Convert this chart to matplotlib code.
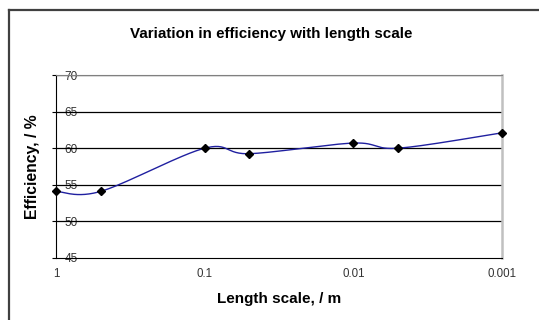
import numpy as np
import matplotlib
matplotlib.use("Agg")
import matplotlib.pyplot as plt
from matplotlib.lines import Line2D

plt.rcParams['font.family'] = ['Liberation Sans', 'DejaVu Sans']

length_scale = [1, 0.5, 0.1, 0.05, 0.01, 0.005, 0.001]
efficiency = [54.1, 54.1, 60.0, 59.25, 60.7, 60.0, 62.1]

xticks = [1, 0.1, 0.01, 0.001]
xtick_labels = ['1', '0.1', '0.01', '0.001']
yticks = [45, 50, 55, 60, 65, 70]


def smooth(xs, ys, n=30):
    # excel-like smoothed line: catmull-rom as bezier, in log-x space
    u = -np.log10(np.array(xs, dtype=float))
    v = np.array(ys, dtype=float)
    P = np.column_stack([u, v])
    P = np.vstack([P[0], P, P[-1]])
    out = []
    t = np.linspace(0, 1, n)[:, None]
    for i in range(1, len(P) - 2):
        p0, p1, p2, p3 = P[i - 1], P[i], P[i + 1], P[i + 2]
        c1 = p1 + (p2 - p0) / 6
        c2 = p2 - (p3 - p1) / 6
        seg = ((1 - t) ** 3) * p1 + 3 * ((1 - t) ** 2) * t * c1 + 3 * (1 - t) * t ** 2 * c2 + t ** 3 * p2
        out.append(seg if i == 1 else seg[1:])
    out = np.vstack(out)
    return 10 ** (-out[:, 0]), out[:, 1]


fig = plt.figure(figsize=(5.39, 3.2), dpi=100)
ax = fig.add_axes([56 / 539, 1 - 258 / 320, 446 / 539, 183 / 320])

ax.set_xscale('log')
ax.set_xlim(1, 0.001)
ax.set_ylim(45, 70)

for yv in yticks[1:]:
    ax.axhline(yv, color='black', lw=0.9, zorder=2)

sx, sy = smooth(length_scale, efficiency)
ax.plot(sx, sy, color='#2020a0', lw=1.0, zorder=3)
ax.plot(length_scale, efficiency, linestyle='none', marker='D', ms=4.5,
        color='black', zorder=4, clip_on=False)

ax.set_xticks(xticks)
ax.set_xticklabels(xtick_labels)
ax.xaxis.set_minor_locator(matplotlib.ticker.NullLocator())
ax.tick_params(axis='x', length=0, pad=7.5, labelsize=8.3, labelcolor='#333333')

ax.set_yticks(yticks)
ax.tick_params(axis='y', direction='out', length=3, width=0.8, pad=-9,
               labelsize=8.5, labelcolor='#333333')
for lab in ax.get_yticklabels():
    lab.set_horizontalalignment('left')

ax.spines['left'].set_color('black')
ax.spines['bottom'].set_color('black')
ax.spines['top'].set_color('#808080')
ax.spines['right'].set_color('#c0c0c0')
ax.spines['right'].set_linewidth(1.8)

ax.set_xlabel('Length scale, / m', fontsize=11, fontweight='bold', va='center')
ax.xaxis.set_label_coords(0.5, (258 - 299) / 183)
ax.set_ylabel('Efficiency, / %', fontsize=11.3, fontweight='bold', va='center')
ax.yaxis.set_label_coords((32 - 56) / 446, 0.5)
fig.text(271 / 539, 1 - 34 / 320, 'Variation in efficiency with length scale',
         ha='center', va='center', fontsize=10.9, fontweight='bold')

# chart area border (left and top edges visible)
fig.add_artist(Line2D([8.5 / 539, 8.5 / 539], [0, 1 - 10 / 320], color='#404040', lw=1.6))
fig.add_artist(Line2D([8.5 / 539, 1], [1 - 10 / 320, 1 - 10 / 320], color='#404040', lw=1.6))

fig.savefig('out.png', dpi=100)
